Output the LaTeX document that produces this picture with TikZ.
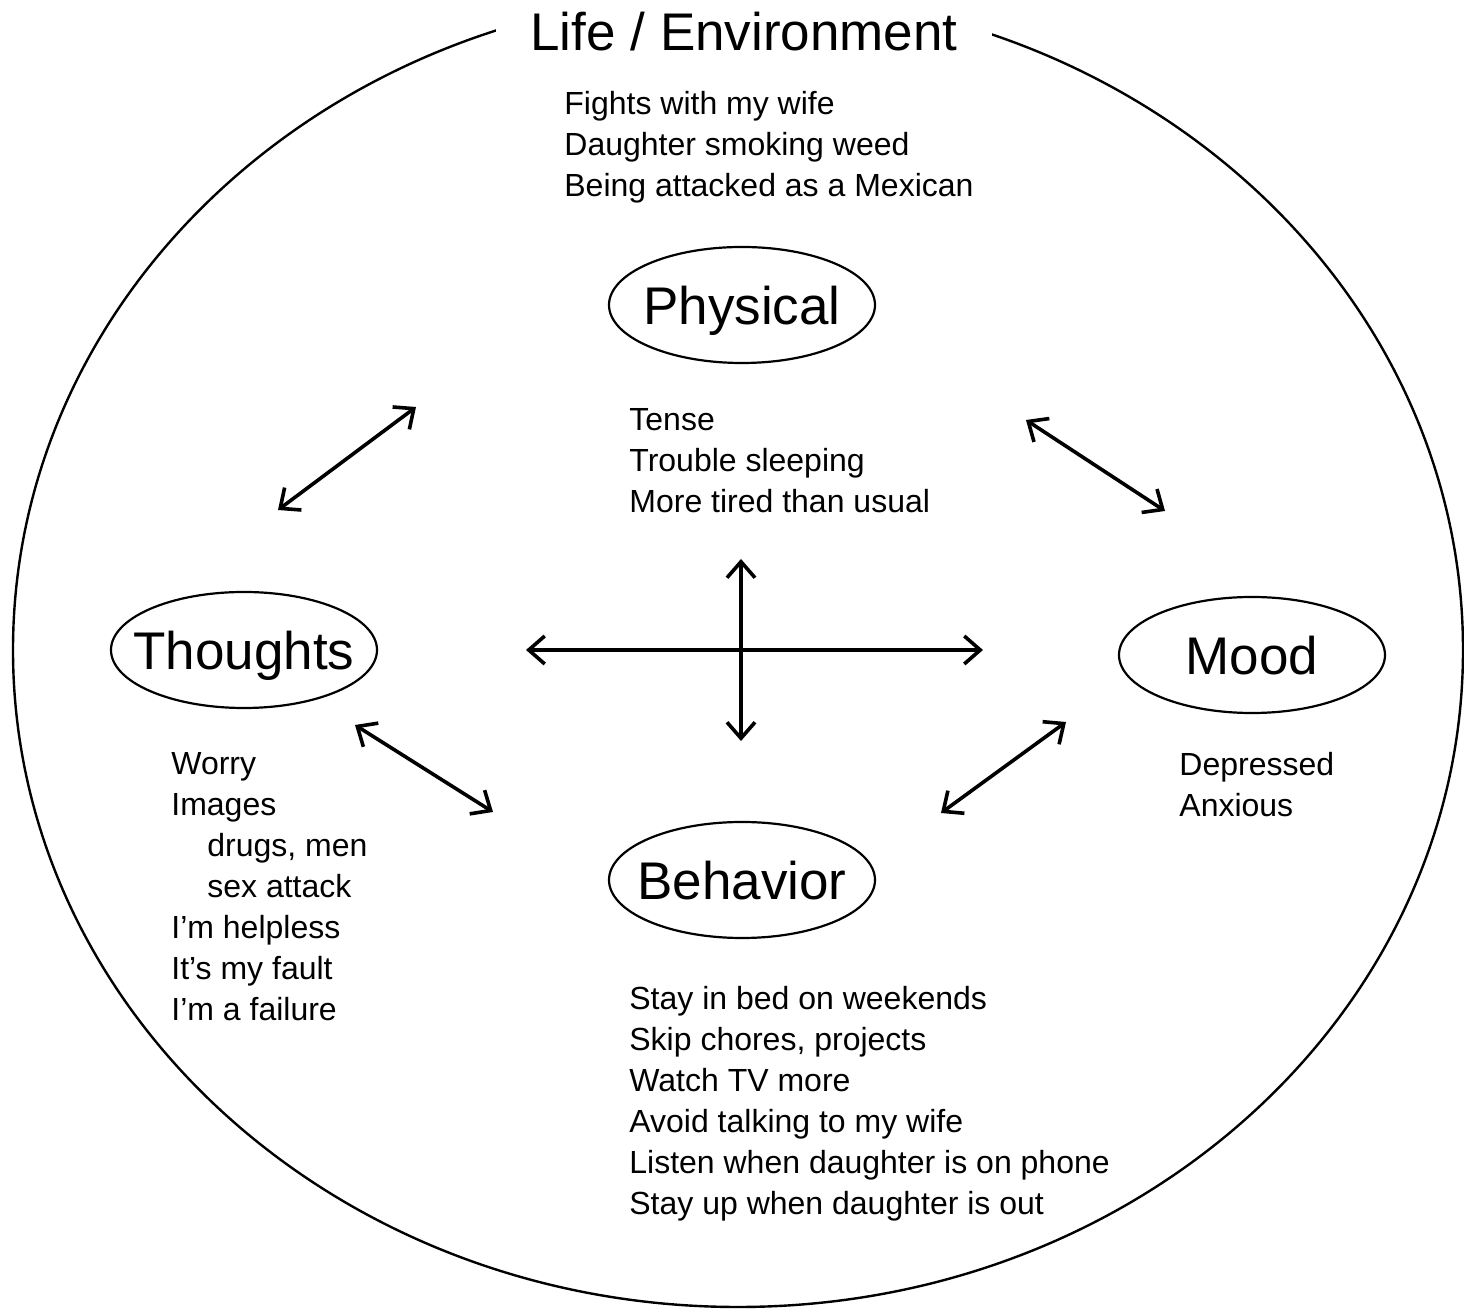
\documentclass[tikz,border=0pt]{standalone}
\usepackage{fontspec}
\setmainfont{Liberation Sans}
\usetikzlibrary{shapes.geometric,arrows.meta}
\begin{document}
\begin{tikzpicture}[x=0.5pt,y=-0.5pt,
  bigtitle/.style={font=\fontsize{26.5}{30}\selectfont, inner sep=0pt},
  oval/.style={draw, line width=1.1pt, ellipse, minimum width=133pt, minimum height=58pt, inner sep=0pt, text height=20pt, text depth=0pt, font=\fontsize{26.5}{30}\selectfont},
  items/.style={align=left, anchor=north west, inner sep=0pt, font=\fontsize{16}{20.5}\selectfont},
  link/.style={line width=1.8pt, {Straight Barb[length=8pt,width=14pt]}-{Straight Barb[length=8pt,width=14pt]}}]
\useasboundingbox (0,0) rectangle (1464,1309);
% outer environment ellipse
\draw[line width=1.2pt] (738,650) ellipse [x radius=362.5pt, y radius=328.5pt];
\node[bigtitle, fill=white, inner xsep=17pt, inner ysep=12pt, anchor=base] (title) at (744,51) {Life / Environment};
% life events
\node[items] (life) at (564,91) {Fights with my wife\\Daughter smoking weed\\Being attacked as a Mexican};
% main ovals
\node[oval] (phys) at (742,305) {\makebox[0pt]{Physical}};
\node[oval] (thou) at (244,650) {\makebox[0pt]{Thoughts}};
\node[oval] (mood) at (1252,655) {\makebox[0pt]{Mood}};
\node[oval] (beh) at (742,880) {\makebox[0pt]{Behavior}};
% item lists
\node[items] (physl) at (629,408) {Tense\\Trouble sleeping\\More tired than usual};
\node[items] (thoul) at (171,752) {Worry\\Images\\\hspace*{18pt}drugs, men\\\hspace*{18pt}sex attack\\I’m helpless\\It’s my fault\\I’m a failure};
\node[items] (moodl) at (1179,752) {Depressed\\Anxious};
\node[items] (behl) at (629,986) {Stay in bed on weekends\\Skip chores, projects\\Watch TV more\\Avoid talking to my wife\\Listen when daughter is on phone\\Stay up when daughter is out};
% arrow end points
\coordinate (tlA) at (278,510); \coordinate (tlB) at (416,407);
\coordinate (trA) at (1026,420); \coordinate (trB) at (1165,511);
\coordinate (blA) at (355,725); \coordinate (blB) at (493,812);
\coordinate (brA) at (941,813); \coordinate (brB) at (1066,722);
\coordinate (hA) at (526,650); \coordinate (hB) at (983,650);
\coordinate (vA) at (741,559); \coordinate (vB) at (741,741);
\draw[link] (tlA) -- (tlB);
\draw[link] (trA) -- (trB);
\draw[link] (blA) -- (blB);
\draw[link] (brA) -- (brB);
\draw[link] (hA) -- (hB);
\draw[link] (vA) -- (vB);
\end{tikzpicture}
\end{document}
